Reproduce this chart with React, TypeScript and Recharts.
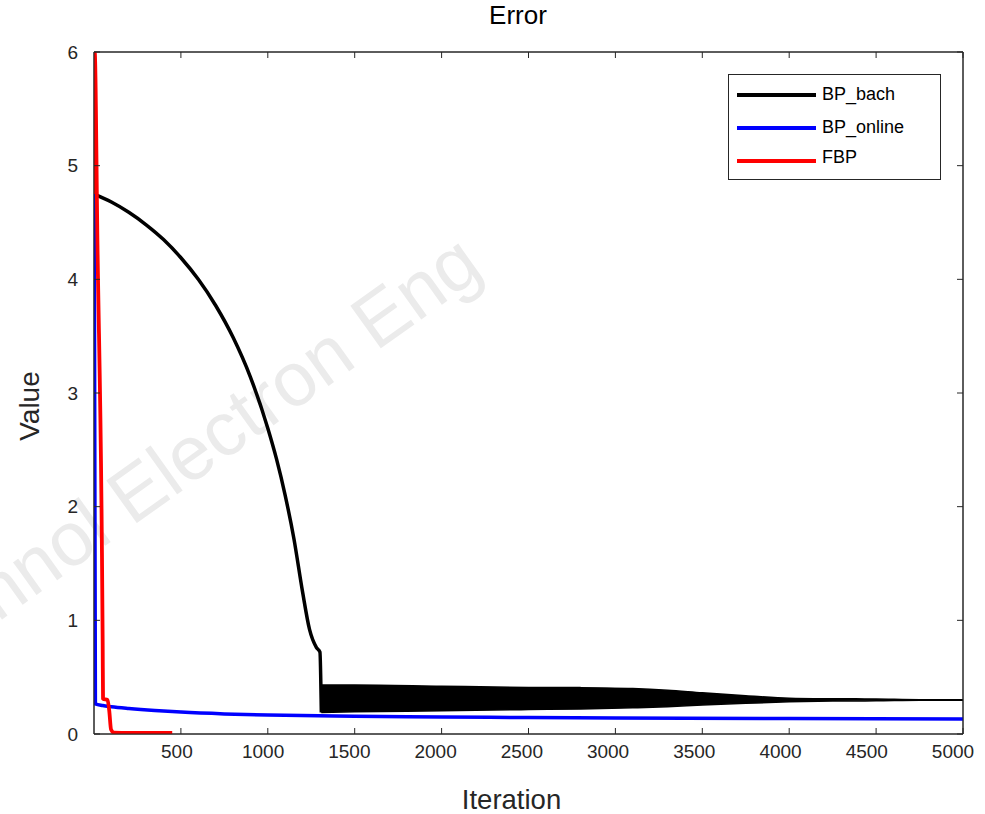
import React from 'react';
import { ComposedChart, Line, Area, XAxis, YAxis, ReferenceArea, Legend } from 'recharts';

// ---- tick labels ----
const xTicks = [500, 1000, 1500, 2000, 2500, 3000, 3500, 4000, 4500, 5000];
const yTicks = [0, 1, 2, 3, 4, 5, 6];

// ---- series names / colours ----
const seriesNames = ['BP_bach', 'BP_online', 'FBP'];
const seriesColors = ['#000000', '#0000ff', '#ff0000'];

// ---- BP_bach: smooth descent before oscillation ----
const bachIter = [1, 100, 200, 300, 400, 500, 600, 700, 800, 900, 1000, 1050, 1100, 1150, 1200, 1240, 1280, 1300, 1308];
const bachValue = [4.75, 4.68, 4.59, 4.48, 4.35, 4.19, 4.0, 3.77, 3.49, 3.14, 2.69, 2.42, 2.1, 1.72, 1.25, 0.92, 0.76, 0.72, 0.19];

// ---- BP_bach: oscillation envelope ----
const bandIter = [1308, 1500, 2000, 2500, 2800, 3100, 3300, 3500, 3750, 4000, 4250, 4500, 4750, 5000];
const bandLow = [0.19, 0.195, 0.205, 0.215, 0.22, 0.23, 0.24, 0.255, 0.27, 0.283, 0.29, 0.292, 0.298, 0.298];
const bandHigh = [0.43, 0.43, 0.42, 0.41, 0.408, 0.40, 0.385, 0.362, 0.337, 0.315, 0.31, 0.308, 0.302, 0.302];

// ---- BP_online ----
const onlineIter = [1, 8, 50, 100, 200, 350, 500, 750, 1000, 1500, 2000, 2500, 3000, 4000, 5000];
const onlineValue = [4.75, 0.265, 0.25, 0.24, 0.225, 0.207, 0.193, 0.177, 0.167, 0.156, 0.15, 0.145, 0.141, 0.136, 0.132];

// ---- FBP ----
const fbpIter = [1, 4, 20, 46, 50, 52, 78, 88, 98, 115, 200, 450];
const fbpValue = [4.75, 6.0, 4.3, 1.55, 0.78, 0.31, 0.30, 0.2, 0.04, 0.012, 0.01, 0.01];

const bachData = bachIter.map((x, i) => ({ x, y: bachValue[i] }));
const bandData = bandIter.map((x, i) => ({ x, range: [bandLow[i], bandHigh[i]] }));
const onlineData = onlineIter.map((x, i) => ({ x, y: onlineValue[i] }));
const fbpData = fbpIter.map((x, i) => ({ x, y: fbpValue[i] }));

const AX = '#262626';
const FONT = '"Liberation Sans", Arial, Helvetica, sans-serif';

const XTick = (props: any) => {
  const { x, y, payload } = props;
  const shift = -4 - (6 * (payload.value - 500)) / 4500;
  return (
    <text x={x + shift} y={y} dy="0.71em" textAnchor="middle" fill={AX} fontSize={19} fontFamily={FONT}>
      {payload.value}
    </text>
  );
};

const LegendBox = () => (
  <div
    style={{
      width: 211,
      height: 104,
      border: `1px solid ${AX}`,
      background: '#fff',
      position: 'relative',
      fontFamily: FONT,
      fontSize: 18,
      color: '#000',
    }}
  >
    {seriesNames.map((n, i) => (
      <div key={n} style={{ position: 'absolute', left: 8, top: 9 + i * 33, height: 22, display: 'flex', alignItems: 'center' }}>
        <div style={{ width: 79, height: 4, background: seriesColors[i] }} />
        <span style={{ marginLeft: 6, marginTop: i === 2 ? -7 : -2 }}>{n}</span>
      </div>
    ))}
  </div>
);

export default function App() {
  return (
    <div style={{ position: 'absolute', left: 0, top: 0, width: 985, height: 814, overflow: 'hidden', background: '#fff' }}>
      <svg width={985} height={814} style={{ position: 'absolute', left: 0, top: 0 }}>
        <text
          x={474}
          y={257}
          textAnchor="end"
          dominantBaseline="middle"
          fontFamily={FONT}
          fontSize={76}
          fill="#ebebeb"
          transform="rotate(-35.6 474 257)"
        >
          Technol Electron Eng
        </text>
        <text x={518} y={24} textAnchor="middle" fontFamily={FONT} fontSize={26} fill="#000">
          Error
        </text>
      </svg>
      <div style={{ position: 'absolute', left: 0, top: 0 }}>
        <ComposedChart width={985} height={814} margin={{ top: 51, right: 21, bottom: 20, left: 34 }}>
          <XAxis
            xAxisId="main"
            type="number"
            dataKey="x"
            domain={[0, 5000]}
            ticks={xTicks}
            allowDataOverflow
            height={60}
            stroke={AX}
            tickSize={-6}
            tickMargin={17}
            tick={<XTick />}
            label={({ viewBox }: any) => (
              <text x={viewBox.x + viewBox.width / 2 - 17} y={viewBox.y + 75} textAnchor="middle" fontFamily={FONT} fontSize={27.5} fill={AX}>
                Iteration
              </text>
            )}
          />
          <XAxis
            xAxisId="top"
            orientation="top"
            type="number"
            dataKey="x"
            domain={[0, 5000]}
            ticks={xTicks}
            allowDataOverflow
            height={1}
            stroke={AX}
            tickSize={-6}
            tick={() => <g />}
          />
          <YAxis
            yAxisId="main"
            type="number"
            domain={[0, 6]}
            ticks={yTicks}
            allowDataOverflow
            width={60}
            stroke={AX}
            tickSize={-6}
            tickMargin={22}
            tick={{ fill: AX, fontSize: 19, fontFamily: FONT }}
            label={() => (
              <text x={39} y={406} textAnchor="middle" fontFamily={FONT} fontSize={28} fill={AX} transform="rotate(-90 39 406)">
                Value
              </text>
            )}
          />
          <YAxis
            yAxisId="right"
            orientation="right"
            type="number"
            domain={[0, 6]}
            ticks={yTicks}
            allowDataOverflow
            width={1}
            stroke={AX}
            tickSize={-6}
            tick={() => <g />}
          />
          <ReferenceArea xAxisId="main" yAxisId="main" x1={0} x2={5000} y1={0} y2={6} fill="none" stroke={AX} strokeWidth={1} ifOverflow="visible" />
          <Line
            xAxisId="main"
            yAxisId="main"
            data={bachData}
            dataKey="y"
            name={seriesNames[0]}
            type="monotone"
            stroke={seriesColors[0]}
            strokeWidth={3.5}
            dot={false}
            isAnimationActive={false}
            strokeLinejoin="round"
          />
          <Area
            xAxisId="main"
            yAxisId="main"
            data={bandData}
            dataKey="range"
            type="monotone"
            stroke={seriesColors[0]}
            strokeWidth={1.5}
            fill={seriesColors[0]}
            fillOpacity={1}
            dot={false}
            activeDot={false}
            isAnimationActive={false}
            legendType="none"
          />
          <Line
            xAxisId="main"
            yAxisId="main"
            data={onlineData}
            dataKey="y"
            name={seriesNames[1]}
            type="monotone"
            stroke={seriesColors[1]}
            strokeWidth={3.5}
            dot={false}
            isAnimationActive={false}
            strokeLinejoin="round"
          />
          <Line
            xAxisId="main"
            yAxisId="main"
            data={fbpData}
            dataKey="y"
            name={seriesNames[2]}
            type="monotone"
            stroke={seriesColors[2]}
            strokeWidth={3.8}
            dot={false}
            isAnimationActive={false}
            strokeLinejoin="round"
          />
          <Legend
            layout="vertical"
            align="center"
            verticalAlign="middle"
            wrapperStyle={{ position: 'absolute', left: 728, top: 74, width: 213, height: 106 }}
            content={() => <LegendBox />}
          />
        </ComposedChart>
      </div>
    </div>
  );
}
